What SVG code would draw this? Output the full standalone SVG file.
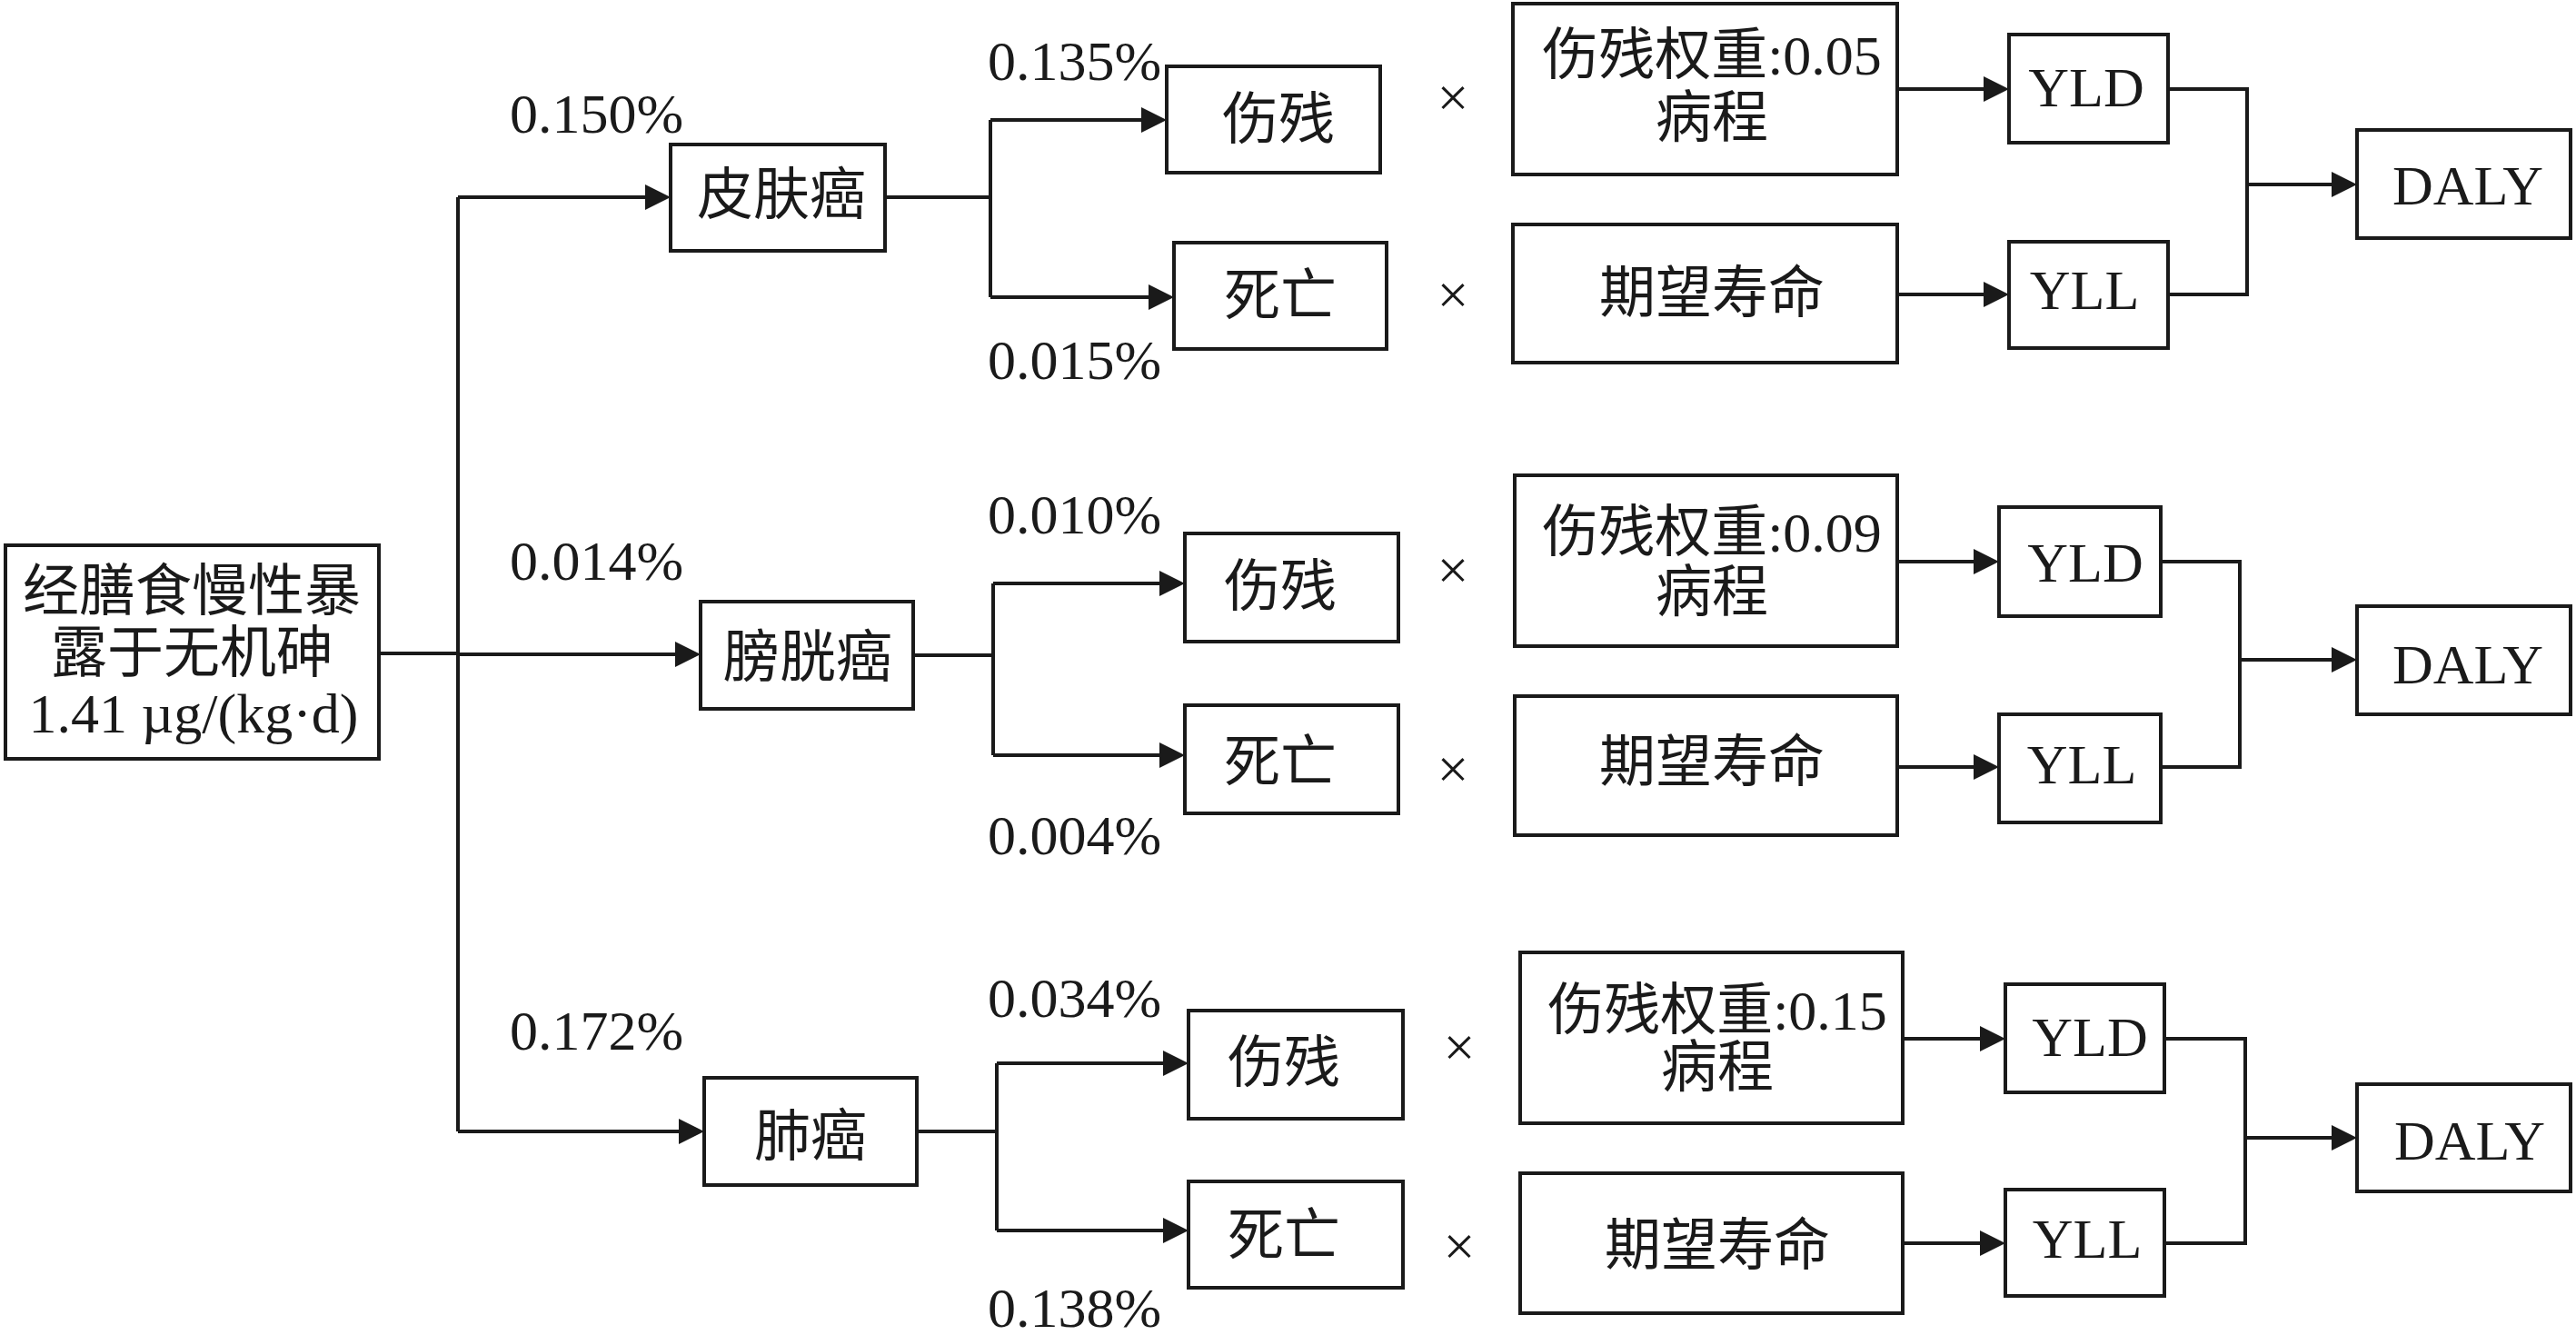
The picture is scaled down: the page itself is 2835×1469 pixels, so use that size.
<svg xmlns="http://www.w3.org/2000/svg" width="2835" height="1469" viewBox="0 0 2835 1469">
<style>
.bg{fill:#fff}
.box{fill:#fff;stroke:#1a1a1a;stroke-width:4}
.ln{fill:none;stroke:#1a1a1a;stroke-width:4}
.ar{marker-end:url(#ah)}
.t{font-family:"Liberation Serif","Noto Sans CJK SC",serif;font-size:62px;fill:#1a1a1a}
.c{text-anchor:middle}
</style>
<defs>
<marker id="ah" markerUnits="userSpaceOnUse" markerWidth="28" markerHeight="28" refX="20" refY="14" orient="auto" viewBox="0 0 28 28">
<path d="M0,0 L28,14 L0,28 Z" fill="#1a1a1a"/>
</marker>
</defs>
<rect class="bg" x="0" y="0" width="2835" height="1469"/>

<g id="connectors">
<path class="ln" d="M417,719 H504"/>
<path class="ln" d="M504,217 V1245"/>
<path class="ln ar" d="M504,217 H730"/>
<path class="ln ar" d="M504,720 H763"/>
<path class="ln ar" d="M504,1245 H767"/>

<path class="ln" d="M974,217 H1090"/>
<path class="ln" d="M1090,132 V327"/>
<path class="ln ar" d="M1090,132 H1276"/>
<path class="ln ar" d="M1090,327 H1284"/>
<path class="ln ar" d="M2088,98 H2203"/>
<path class="ln ar" d="M2088,324 H2203"/>
<path class="ln" d="M2386,98 H2473 V324 H2386"/>
<path class="ln ar" d="M2473,203 H2586"/>

<path class="ln" d="M1005,721 H1093"/>
<path class="ln" d="M1093,642 V831"/>
<path class="ln ar" d="M1093,642 H1296"/>
<path class="ln ar" d="M1093,831 H1296"/>
<path class="ln ar" d="M2088,618 H2192"/>
<path class="ln ar" d="M2088,844 H2192"/>
<path class="ln" d="M2378,618 H2465 V844 H2378"/>
<path class="ln ar" d="M2465,726 H2586"/>

<path class="ln" d="M1009,1245 H1097"/>
<path class="ln" d="M1097,1170 V1354"/>
<path class="ln ar" d="M1097,1170 H1300"/>
<path class="ln ar" d="M1097,1354 H1300"/>
<path class="ln ar" d="M2094,1143 H2199"/>
<path class="ln ar" d="M2094,1368 H2199"/>
<path class="ln" d="M2382,1143 H2471 V1368 H2382"/>
<path class="ln ar" d="M2471,1252 H2586"/>
</g>

<g id="labels">
<text class="t" x="561" y="146">0.150%</text>
<text class="t" x="561" y="638">0.014%</text>
<text class="t" x="561" y="1155">0.172%</text>
<text class="t" x="1087" y="88">0.135%</text>
<text class="t" x="1087" y="417">0.015%</text>
<text class="t" x="1087" y="587">0.010%</text>
<text class="t" x="1087" y="940">0.004%</text>
<text class="t" x="1087" y="1119">0.034%</text>
<text class="t" x="1087" y="1460">0.138%</text>
<text class="t c" x="1599" y="128">×</text>
<text class="t c" x="1599" y="345">×</text>
<text class="t c" x="1599" y="648">×</text>
<text class="t c" x="1599" y="867">×</text>
<text class="t c" x="1606" y="1173">×</text>
<text class="t c" x="1606" y="1392">×</text>
</g>

<g id="source">
<rect class="box" x="6" y="600" width="411" height="235"/>
<text class="t c" x="211" y="672">经膳食慢性暴</text>
<text class="t c" x="211" y="740">露于无机砷</text>
<text class="t c" x="213" y="806">1.41 µg/(kg·d)</text>
</g>

<g id="skin">
<rect class="box" x="738" y="159" width="236" height="117"/>
<text class="t c" x="860" y="236">皮肤癌</text>
</g>
<g id="skin-disability">
<rect class="box" x="1284" y="73" width="235" height="117"/>
<text class="t c" x="1407" y="153">伤残</text>
</g>
<g id="skin-death">
<rect class="box" x="1292" y="267" width="234" height="117"/>
<text class="t c" x="1409" y="347">死亡</text>
</g>
<g id="skin-weight">
<rect class="box" x="1665" y="4" width="423" height="188"/>
<text class="t c" x="1884" y="82">伤残权重:0.05</text>
<text class="t c" x="1884" y="151">病程</text>
</g>
<g id="skin-life">
<rect class="box" x="1665" y="247" width="423" height="152"/>
<text class="t c" x="1884" y="344">期望寿命</text>
</g>
<g id="skin-yld">
<rect class="box" x="2211" y="38" width="175" height="119"/>
<text class="t c" x="2296" y="117">YLD</text>
</g>
<g id="skin-yll">
<rect class="box" x="2211" y="266" width="175" height="117"/>
<text class="t c" x="2294" y="340">YLL</text>
</g>
<g id="skin-daly">
<rect class="box" x="2594" y="143" width="235" height="119"/>
<text class="t c" x="2716" y="225">DALY</text>
</g>

<g id="bladder">
<rect class="box" x="771" y="662" width="234" height="118"/>
<text class="t c" x="889" y="745">膀胱癌</text>
</g>
<g id="bladder-disability">
<rect class="box" x="1304" y="587" width="235" height="119"/>
<text class="t c" x="1409" y="667">伤残</text>
</g>
<g id="bladder-death">
<rect class="box" x="1304" y="776" width="235" height="119"/>
<text class="t c" x="1409" y="860">死亡</text>
</g>
<g id="bladder-weight">
<rect class="box" x="1667" y="523" width="421" height="188"/>
<text class="t c" x="1884" y="607">伤残权重:0.09</text>
<text class="t c" x="1884" y="673">病程</text>
</g>
<g id="bladder-life">
<rect class="box" x="1667" y="766" width="421" height="153"/>
<text class="t c" x="1884" y="860">期望寿命</text>
</g>
<g id="bladder-yld">
<rect class="box" x="2200" y="558" width="178" height="120"/>
<text class="t c" x="2295" y="640">YLD</text>
</g>
<g id="bladder-yll">
<rect class="box" x="2200" y="786" width="178" height="119"/>
<text class="t c" x="2291" y="862">YLL</text>
</g>
<g id="bladder-daly">
<rect class="box" x="2594" y="667" width="235" height="119"/>
<text class="t c" x="2716" y="752">DALY</text>
</g>

<g id="lung">
<rect class="box" x="775" y="1186" width="234" height="118"/>
<text class="t c" x="892" y="1272">肺癌</text>
</g>
<g id="lung-disability">
<rect class="box" x="1308" y="1112" width="236" height="119"/>
<text class="t c" x="1413" y="1191">伤残</text>
</g>
<g id="lung-death">
<rect class="box" x="1308" y="1300" width="236" height="117"/>
<text class="t c" x="1413" y="1381">死亡</text>
</g>
<g id="lung-weight">
<rect class="box" x="1673" y="1048" width="421" height="188"/>
<text class="t c" x="1890" y="1133">伤残权重:0.15</text>
<text class="t c" x="1890" y="1196">病程</text>
</g>
<g id="lung-life">
<rect class="box" x="1673" y="1291" width="421" height="154"/>
<text class="t c" x="1890" y="1392">期望寿命</text>
</g>
<g id="lung-yld">
<rect class="box" x="2207" y="1083" width="175" height="119"/>
<text class="t c" x="2300" y="1162">YLD</text>
</g>
<g id="lung-yll">
<rect class="box" x="2207" y="1309" width="175" height="117"/>
<text class="t c" x="2297" y="1384">YLL</text>
</g>
<g id="lung-daly">
<rect class="box" x="2594" y="1193" width="235" height="118"/>
<text class="t c" x="2718" y="1276">DALY</text>
</g>
</svg>
